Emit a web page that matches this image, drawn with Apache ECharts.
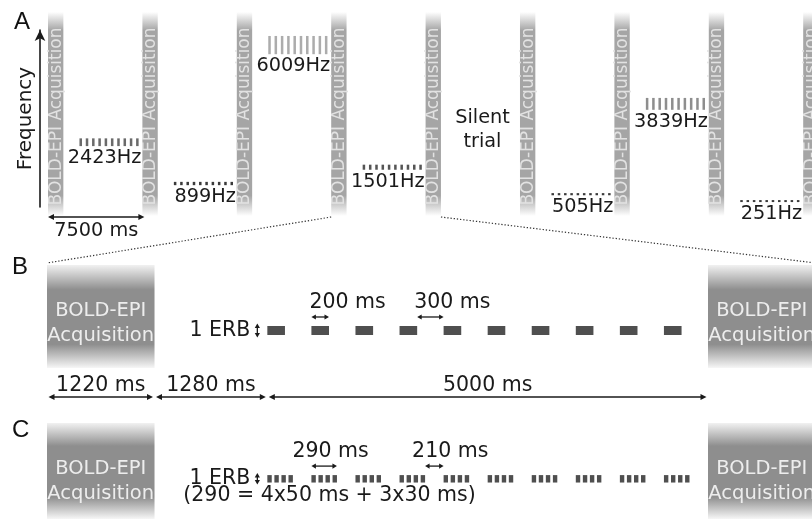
<!DOCTYPE html>
<html><head><meta charset="utf-8">
<script src="https://cdn.jsdelivr.net/npm/echarts/dist/echarts.min.js"></script>
<style>html,body{margin:0;padding:0;background:#fff}#c{width:812px;height:519px}</style>
</head><body><div id="c"></div>
<script>
// ---------------- data ----------------
const trialFreqHz   = [2423, 899, 6009, 1501, null, 505, 3839, 251];   // null = silent trial
const trialLabels   = ['2423Hz', '899Hz', '6009Hz', '1501Hz', 'Silent\ntrial', '505Hz', '3839Hz', '251Hz'];
const toneErbHz     = [286, 122, 673, 187, 0, 79, 439, 52];            // 1-ERB bandwidth of each tone
const trialStartsMs = [0, 7500, 15000, 22500, 30000, 37500, 45000, 52500];
const acquisitionStartsA = [0, 7500, 15000, 22500, 30000, 37500, 45000, 52500, 60000];
const acquisitionStartsB = [0, 7500];
const trialMs       = 7500;
const acquisitionMs = 1220;
const pulseOnsetsMs = [2500, 3000, 3500, 4000, 4500, 5000, 5500, 6000, 6500, 7000];
const pulseDurB     = 200;
const subPulseOffsetsC = [0, 80, 160, 240];
const subPulseDurC  = 50;
const timelineSegments = [[0, 1220], [1220, 2500], [2500, 7500]];
const timelineLabels   = ['1220 ms', '1280 ms', '5000 ms'];
const intervalsB       = [[3000, 3200], [4200, 4500]];
const intervalLabelsB  = ['200 ms', '300 ms'];
const intervalsC       = [[3000, 3290], [4290, 4500]];
const intervalLabelsC  = ['290 ms', '210 ms'];
const trialArrow       = [0, 7500];
const trialArrowLabel  = '7500 ms';
const zoomedTrial      = 3;
const erbLabel         = '1 ERB';
const formulaC         = '(290 = 4x50 ms + 3x30 ms)';
const acqLabel         = 'BOLD-EPI Acquisition';
const acqLabel2        = 'BOLD-EPI\nAcquisition';

// ---------------- styles / layout ----------------
const FF = '"DejaVu Sans", Verdana, sans-serif';
const FS = 20.5;
const FSA = 19.3;
const INK = '#1a1a1a';
const toneColors = ['#6a6a6a', '#3a3a3a', '#acacac', '#555555', null, '#3a3a3a', '#8e8e8e', '#3a3a3a'];
const pulseColor = '#4f4f4f';
const SILENT_LABEL_HZ = 2870;
const intervalLabelDxB = [-2, -3];
const intervalLabelDxC = [-19, -13];

const gradA = new echarts.graphic.LinearGradient(0, 0, 0, 1, [
  {offset: 0, color: 'rgba(165,165,165,0)'},
  {offset: 0.09, color: 'rgba(165,165,165,1)'},
  {offset: 0.9, color: 'rgba(165,165,165,1)'},
  {offset: 1, color: 'rgba(165,165,165,0)'}
]);
const gradB = new echarts.graphic.LinearGradient(0, 0, 0, 1, [
  {offset: 0, color: 'rgba(142,142,142,0.12)'},
  {offset: 0.24, color: 'rgba(142,142,142,1)'},
  {offset: 0.77, color: 'rgba(142,142,142,1)'},
  {offset: 1, color: 'rgba(142,142,142,0.08)'}
]);

function dblH(x1, x2, y, head, hw, color, lw) {
  return [
    {type: 'line', shape: {x1: x1 + head * 0.6, y1: y, x2: x2 - head * 0.6, y2: y}, style: {stroke: color, lineWidth: lw}},
    {type: 'polygon', shape: {points: [[x1, y], [x1 + head, y - hw], [x1 + head, y + hw]]}, style: {fill: color}},
    {type: 'polygon', shape: {points: [[x2, y], [x2 - head, y - hw], [x2 - head, y + hw]]}, style: {fill: color}}
  ];
}
function dblV(x, y1, y2, head, hw, color, lw) {
  return [
    {type: 'line', shape: {x1: x, y1: y1 + head * 0.6, x2: x, y2: y2 - head * 0.6}, style: {stroke: color, lineWidth: lw}},
    {type: 'polygon', shape: {points: [[x, y1], [x - hw, y1 + head], [x + hw, y1 + head]]}, style: {fill: color}},
    {type: 'polygon', shape: {points: [[x, y2], [x - hw, y2 - head], [x + hw, y2 - head]]}, style: {fill: color}}
  ];
}
function txt(x, y, text, opt) {
  return {type: 'text', x: x, y: y, rotation: opt.rotation || 0,
    style: Object.assign({text: text, fill: INK, font: FS + 'px ' + FF, align: 'center', verticalAlign: 'middle'}, opt.style || {})};
}

// ---- panel A ----
function renderAcqA(params, api) {
  const cs = params.coordSys;
  const s = api.value(0);
  const x0 = api.coord([s, 0])[0], x1 = api.coord([s + acquisitionMs, 0])[0];
  return {type: 'group', children: [
    {type: 'rect', shape: {x: x0, y: cs.y, width: x1 - x0, height: cs.height}, style: {fill: gradA}},
    txt((x0 + x1) / 2 + 0.5, cs.y + cs.height * 0.512, acqLabel, {rotation: Math.PI / 2, style: {fill: '#e2e2e2', font: '17px ' + FF}})
  ]};
}
function renderToneA(params, api) {
  const start = api.value(0), f = api.value(1), erb = api.value(2), idx = api.value(3);
  const children = [];
  pulseOnsetsMs.forEach(function (o) {
    const p0 = api.coord([start + o, f + erb / 2]);
    const p1 = api.coord([start + o + pulseDurB, f - erb / 2]);
    let y = p0[1], h = p1[1] - p0[1];
    if (h < 2) { y = (p0[1] + p1[1]) / 2 - 1; h = 2; }
    children.push({type: 'rect', shape: {x: p0[0], y: y, width: Math.max(p1[0] - p0[0], 2), height: h}, style: {fill: toneColors[idx]}});
  });
  const bottom = api.coord([start, f - erb / 2])[1];
  const xr = api.coord([start + trialMs, 0])[0];
  children.push(txt(xr - 1, bottom + 12, trialLabels[idx], {style: {align: 'right', font: FSA + 'px ' + FF}}));
  return {type: 'group', children: children};
}
function renderSilentA(params, api) {
  const start = api.value(0), idx = api.value(1);
  const p = api.coord([start + (acquisitionMs + trialMs) / 2, SILENT_LABEL_HZ]);
  return txt(p[0] + 2, p[1], trialLabels[idx], {style: {lineHeight: 24, font: FSA + 'px ' + FF}});
}
function renderTrialArrow(params, api) {
  const cs = params.coordSys;
  const a = api.coord([api.value(0), 0])[0], b = api.coord([api.value(1), 0])[0];
  const y = cs.y + cs.height + 1;
  return {type: 'group', children: dblH(a, b + 2, y, 6, 3, INK, 1.3).concat([txt((a + b) / 2 + 1, y + 14, trialArrowLabel, {style: {font: FSA + 'px ' + FF}})])};
}

// ---- panels B / C ----
function renderBox(params, api) {
  const cs = params.coordSys;
  const s = api.value(0);
  const x0 = api.coord([s, 0])[0], x1 = api.coord([s + acquisitionMs, 0])[0];
  return {type: 'group', children: [
    {type: 'rect', shape: {x: x0, y: cs.y, width: x1 - x0, height: cs.height}, style: {fill: gradB}},
    txt((x0 + x1) / 2, cs.y + 58.5, acqLabel2, {style: {fill: '#ededed', font: '19.5px ' + FF, lineHeight: 25}})
  ]};
}
function renderPulseB(params, api) {
  const o = api.value(0);
  const p0 = api.coord([o, 0.5]), p1 = api.coord([o + pulseDurB, -0.5]);
  return {type: 'rect', shape: {x: p0[0], y: p0[1], width: p1[0] - p0[0], height: p1[1] - p0[1]}, style: {fill: pulseColor}};
}
function renderPulseC(params, api) {
  const o = api.value(0);
  return {type: 'group', children: subPulseOffsetsC.map(function (d) {
    const p0 = api.coord([o + d, 0.5]), p1 = api.coord([o + d + subPulseDurC, -0.5]);
    return {type: 'rect', shape: {x: p0[0], y: p0[1], width: p1[0] - p0[0], height: p1[1] - p0[1]}, style: {fill: pulseColor}};
  })};
}
function makeErbRenderer(withFormula) {
  return function (params, api) {
    const p = api.coord([api.value(0), 0]);
    const top = api.coord([0, 0.78])[1], bot = api.coord([0, -0.78])[1];
    let ch = dblV(p[0] - 10, top, bot, 4.5, 2.6, INK, 1.3);
    ch.push(txt(p[0] - 17, p[1], erbLabel, {style: {align: 'right'}}));
    if (withFormula) ch.push(txt(p[0] - 84, p[1] + 17, formulaC, {style: {align: 'left'}}));
    return {type: 'group', children: ch};
  };
}
function makeIntervalRenderer(labels, dxs) {
  return function (params, api) {
    const i = api.value(2);
    const a = api.coord([api.value(0), 0.5]), b = api.coord([api.value(1), 0.5]);
    const y = a[1] - 9;
    return {type: 'group', children: dblH(a[0], b[0], y, 4.5, 2.6, INK, 1.3).concat([
      txt(a[0] + dxs[i], y - 14, labels[i], {style: {align: 'left'}})
    ])};
  };
}
function renderTimeline(params, api) {
  const cs = params.coordSys;
  const i = api.value(2);
  const a = api.coord([api.value(0), 0])[0] + 1.5, b = api.coord([api.value(1), 0])[0] - 1.5;
  const y = cs.y + cs.height + 29;
  return {type: 'group', children: dblH(a, b, y, 6, 3, INK, 1.3).concat([txt((a + b) / 2, y - 11, timelineLabels[i], {})])};
}

const hiddenX = function (gi, max) { return {type: 'value', gridIndex: gi, min: 0, max: max, show: false}; };
const hiddenY = function (gi, min, max) { return {type: 'value', gridIndex: gi, min: min, max: max, show: false}; };

const toneData = [];
trialFreqHz.forEach(function (f, i) { if (f !== null) toneData.push([trialStartsMs[i], f, toneErbHz[i], i]); });
const silentData = [];
trialFreqHz.forEach(function (f, i) { if (f === null) silentData.push([trialStartsMs[i], i]); });

function cs(gi, extra) { return Object.assign({type: 'custom', coordinateSystem: 'cartesian2d', xAxisIndex: gi, yAxisIndex: gi, silent: true, clip: false}, extra); }

const letterStyle = {fontFamily: '"Liberation Sans", Arial', fontSize: 24, fontWeight: 'normal', color: '#111'};
const option = {
  animation: false,
  backgroundColor: '#ffffff',
  title: [
    {text: 'A', left: 14, top: 10, padding: 0, textStyle: letterStyle},
    {text: 'B', left: 12, top: 255, padding: 0, textStyle: letterStyle},
    {text: 'C', left: 12, top: 418, padding: 0, textStyle: letterStyle}
  ],
  grid: [
    {left: 48, right: 0, top: 12, height: 204},
    {left: 40, width: 10, top: 30, height: 177},
    {left: 47, right: 0, top: 265, height: 103},
    {left: 47, right: 0, top: 423, height: 103}
  ],
  xAxis: [hiddenX(0, 60700), hiddenX(1, 1), hiddenX(2, 8680), hiddenX(3, 8680)],
  yAxis: [
    hiddenY(0, -300, 7230),
    {type: 'value', gridIndex: 1, min: 0, max: 1, show: true,
      axisLine: {show: true, symbol: ['none', 'arrow'], symbolSize: [8, 11], symbolOffset: [0, 0], lineStyle: {color: INK, width: 1.6}},
      axisTick: {show: false}, axisLabel: {show: false}, splitLine: {show: false},
      name: 'Frequency', nameLocation: 'middle', nameRotate: 90, nameGap: 4,
      nameTextStyle: {fontFamily: FF, fontSize: 20, color: INK}},
    hiddenY(2, -4.17, 7.28),
    hiddenY(3, -5.4, 7.5)
  ],
  series: [
    cs(0, {data: acquisitionStartsA.map(function (s) { return [s, 0]; }), renderItem: renderAcqA}),
    cs(0, {data: toneData, renderItem: renderToneA}),
    cs(0, {data: silentData, renderItem: renderSilentA}),
    cs(0, {data: [trialArrow], renderItem: renderTrialArrow}),
    cs(2, {data: acquisitionStartsB.map(function (s) { return [s, 0]; }), renderItem: renderBox}),
    cs(2, {data: pulseOnsetsMs.map(function (o) { return [o, 0]; }), renderItem: renderPulseB}),
    cs(2, {data: [[pulseOnsetsMs[0], 0]], renderItem: makeErbRenderer(false)}),
    cs(2, {data: intervalsB.map(function (d, i) { return [d[0], d[1], i]; }), renderItem: makeIntervalRenderer(intervalLabelsB, intervalLabelDxB)}),
    cs(2, {data: timelineSegments.map(function (d, i) { return [d[0], d[1], i]; }), renderItem: renderTimeline}),
    cs(3, {data: acquisitionStartsB.map(function (s) { return [s, 0]; }), renderItem: renderBox}),
    cs(3, {data: pulseOnsetsMs.map(function (o) { return [o, 0]; }), renderItem: renderPulseC}),
    cs(3, {data: [[pulseOnsetsMs[0], 0]], renderItem: makeErbRenderer(true)}),
    cs(3, {data: intervalsC.map(function (d, i) { return [d[0], d[1], i]; }), renderItem: makeIntervalRenderer(intervalLabelsC, intervalLabelDxC)})
  ]
};

const chart = echarts.init(document.getElementById('c'), null, {renderer: 'canvas'});
chart.setOption(option);

// dotted zoom lines: from the zoomed trial in A to the full trial drawn in B
const zs = trialStartsMs[zoomedTrial];
const aL = chart.convertToPixel({xAxisIndex: 0, yAxisIndex: 0}, [zs, -300]);
const aR = chart.convertToPixel({xAxisIndex: 0, yAxisIndex: 0}, [zs + trialMs + acquisitionMs, -300]);
const bL = chart.convertToPixel({xAxisIndex: 2, yAxisIndex: 2}, [0, 7.28]);
const bR = chart.convertToPixel({xAxisIndex: 2, yAxisIndex: 2}, [trialMs + acquisitionMs, 7.28]);
const dot = {stroke: '#333', lineWidth: 1.2, lineDash: [1.3, 1.9]};
chart.setOption({graphic: [
  {type: 'line', silent: true, shape: {x1: aL[0], y1: aL[1] + 1, x2: bL[0], y2: bL[1] - 2}, style: dot},
  {type: 'line', silent: true, shape: {x1: aR[0], y1: aR[1] + 1, x2: bR[0], y2: bR[1] - 2}, style: dot}
]});
</script>
</body></html>
